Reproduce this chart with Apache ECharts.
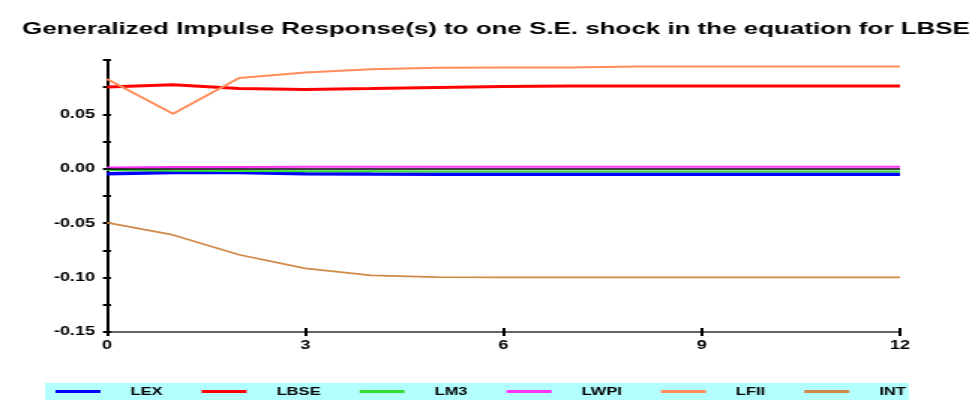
<!DOCTYPE html>
<html><head><meta charset="utf-8">
<script src="https://cdn.jsdelivr.net/npm/echarts@6/dist/echarts.min.js"></script>
<style>html,body{margin:0;padding:0;background:#fff;overflow:hidden}
#wrap{width:978px;height:403px;overflow:hidden}
#c{width:652px;height:403px;transform:scaleX(1.5);transform-origin:0 0}</style>
</head><body><div id="wrap"><div id="c"></div></div>
<script>
var periods = [0,1,2,3,4,5,6,7,8,9,10,11,12];
var LEX  = [-0.0045,-0.0035,-0.0035,-0.0045,-0.0048,-0.0049,-0.0049,-0.0049,-0.0049,-0.0049,-0.0049,-0.0049,-0.0049];
var LBSE = [0.0752,0.0773,0.0737,0.0730,0.0738,0.0748,0.0757,0.0760,0.0760,0.0760,0.0760,0.0760,0.0760];
var LM3  = [-0.0010,-0.0018,-0.0020,-0.0022,-0.0023,-0.0024,-0.0024,-0.0024,-0.0024,-0.0024,-0.0024,-0.0024,-0.0024];
var LWPI = [0.0012,0.0016,0.0017,0.0018,0.0018,0.0018,0.0018,0.0018,0.0018,0.0018,0.0018,0.0018,0.0018];
var LFII = [0.0826,0.0506,0.0835,0.0885,0.0915,0.0928,0.0930,0.0932,0.0940,0.0940,0.0940,0.0940,0.0940];
var INT  = [-0.0494,-0.0608,-0.0790,-0.0915,-0.0980,-0.0995,-0.0998,-0.0998,-0.0998,-0.0998,-0.0998,-0.0998,-0.0998];
var xTicks = [0,3,6,9,12];
var yLabels = [-0.15,-0.10,-0.05,0.00,0.05];
var seriesNames = ['LEX','LBSE','LM3','LWPI','LFII','INT'];

function pairs(arr){ return periods.map(function(p,i){ return [p, arr[i]]; }); }
var F = 'Liberation Sans, Arial, sans-serif';
var chart = echarts.init(document.getElementById('c'));
function ser(name, data, color, w){
  return {name:name, type:'line', data:pairs(data), showSymbol:false, symbol:'none',
    lineStyle:{color:color, width:w}, itemStyle:{color:color}, animation:false, z:3};
}
var series = [
  ser('LEX', LEX, '#0000ff', 3.5),
  ser('LBSE', LBSE, '#ff0000', 3),
  ser('LM3', LM3, '#33dd33', 2),
  ser('LWPI', LWPI, '#ff33ff', 2),
  ser('LFII', LFII, '#ff8c5a', 2),
  ser('INT', INT, '#d08a48', 1.8)
];
series[2].markLine = {silent:true, symbol:'none', label:{show:false}, animation:false,
  lineStyle:{color:'#000', width:1.5, type:'solid'}, data:[{yAxis:0}]};
chart.setOption({
  animation:false,
  title:{text:'Generalized Impulse Response(s) to one S.E. shock in the equation for LBSE',
    left:14.7, top:21, padding:0, textStyle:{fontFamily:F, fontWeight:'bold', fontSize:17.3, color:'#000'}},
  grid:{left:71.3, right:52, top:60, bottom:71},
  legend:{bottom:3, left:30, itemWidth:30, itemHeight:3, itemGap:26, icon:'rect',
    backgroundColor:'#b3ffff', padding:[3,2,3,7],
    textStyle:{fontFamily:F, fontWeight:'bold', fontSize:11, color:'#000', padding:[0,0,0,15]},
    data:seriesNames},
  xAxis:[{type:'value', min:0, max:12, interval:3,
    axisLine:{show:true, onZero:false, lineStyle:{color:'#333', width:1.5}},
    axisTick:{show:true, length:4, lineStyle:{color:'#000', width:2}},
    axisLabel:{fontFamily:F, fontWeight:'bold', fontSize:12, color:'#000', margin:8},
    splitLine:{show:false}},
    {type:'value', min:0, max:12, interval:3, position:'bottom', offset:0,
    axisLine:{show:false, onZero:false}, axisTick:{show:true, inside:true, length:4, lineStyle:{color:'#000', width:2}},
    axisLabel:{show:false}, splitLine:{show:false}}],
  yAxis:[{type:'value', min:-0.15, max:0.10, interval:0.025,
    axisLine:{show:true, onZero:false, lineStyle:{color:'#000', width:2}},
    axisTick:{show:true, length:2.7, lineStyle:{color:'#000', width:2}},
    axisLabel:{fontFamily:F, fontWeight:'bold', fontSize:12, color:'#000', margin:8,
      formatter:function(v){
        for (var i=0;i<yLabels.length;i++){ if (Math.abs(v-yLabels[i])<1e-9) return yLabels[i].toFixed(2); }
        return '';
      }},
    splitLine:{show:false}},
    {type:'value', min:-0.15, max:0.10, interval:0.025, position:'left', offset:0,
    axisLine:{show:false, onZero:false}, axisTick:{show:true, inside:true, length:2.7, lineStyle:{color:'#000', width:2}},
    axisLabel:{show:false}, splitLine:{show:false}}],
  series:series
});
</script></body></html>
